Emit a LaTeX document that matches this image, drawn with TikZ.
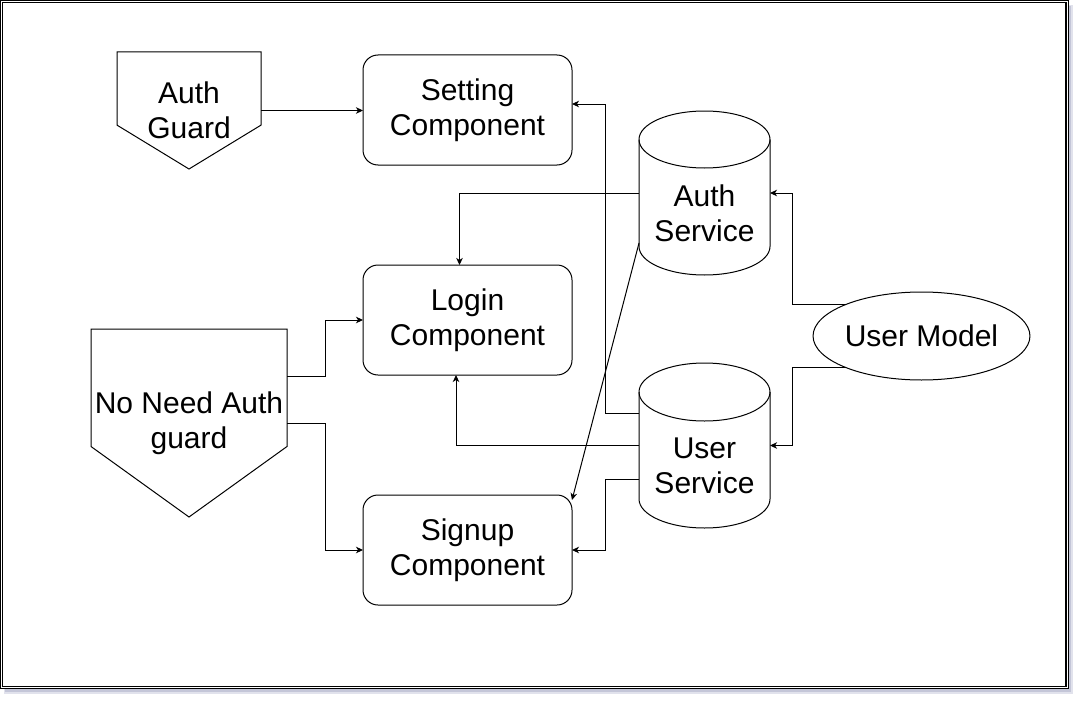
\documentclass[tikz,border=0pt]{standalone}
\usepackage{fontspec}
\setmainfont{Liberation Sans}
\usepackage{tikz}
\usetikzlibrary{arrows.meta,calc,positioning,shapes.geometric}
\definecolor{shadowcol}{RGB}{196,198,216}
\newcommand{\guardshape}[1]{\draw[line width=1pt] (#1.north west) -- (#1.north east) -- ($(#1.south east)!0.375!(#1.north east)$) -- (#1.south) -- ($(#1.south west)!0.375!(#1.north west)$) -- cycle;}
\newcommand{\storeshape}[2]{\draw[line width=1pt] ([yshift=-#2]#1.north west) -- ([yshift=#2]#1.south west) arc[start angle=180,end angle=360,x radius=65.5,y radius=#2] -- ([yshift=-#2]#1.north east);
  \draw[line width=1pt] ([yshift=-#2]#1.north) ellipse[x radius=65.5,y radius=#2];}

\begin{document}
\begin{tikzpicture}[x=1pt,y=1pt,>={Stealth[length=7pt,width=6.5pt,inset=2pt]},
  every node/.style={font=\fontsize{30}{35}\selectfont,align=center,inner sep=0pt,outer sep=0pt},
  comp/.style={draw,line width=1pt,rounded corners=15pt,minimum width=209,minimum height=110},
  link/.style={->,line width=1pt}]
% page frame with shadow
\useasboundingbox (0,0) rectangle (1079,-701);
\fill[shadowcol!50] (4,-5) rectangle (1073,-694);
\fill[shadowcol] (5,-6) rectangle (1071,-692);
\fill[white] (0,0) rectangle (1068.9,-689.3);
\draw[line width=1.2pt] (0.6,-0.6) rectangle (1068.3,-688.7);
\draw[line width=1.2pt] (2.6,-2.6) rectangle (1066,-686.7);
% components
\node[comp] (setting) at (467.5,-110) {Setting\\Component};
\node[comp] (login) at (467.5,-320) {Login\\Component};
\node[comp] (signup) at (467.5,-550) {Signup\\Component};
% guards
\node[minimum width=144,minimum height=117] (authg) at (189,-110.5) {Auth\\Guard};
\node[minimum width=196,minimum height=188] (noneed) at (189,-423) {No Need Auth\\guard};
\guardshape{authg}
\guardshape{noneed}
% services and model
\node[minimum width=131,minimum height=164] (authsvc) at (704.5,-193) {};
\node[minimum width=131,minimum height=165] (usersvc) at (704.5,-445.5) {};
\storeshape{authsvc}{28.5}
\storeshape{usersvc}{29}
\node (authlbl) at ([yshift=-20.5]authsvc.center) {Auth\\Service};
\node (userlbl) at ([yshift=-20]usersvc.center) {User\\Service};
\node[draw,ellipse,line width=1pt,minimum width=215,minimum height=88] (usermodel) at (921.5,-336) {User Model};
% connectors
\draw[link] (authg.east) -- (authg.east -| setting.west);
\draw[link] (authsvc.west) -| ([xshift=-8]login.north);
\draw[link] ([yshift=-50]authsvc.west) -- ([yshift=-5]signup.north east);
\draw[link] ([yshift=32.5]usersvc.west) -- ++(-34,0) |- ([yshift=6]setting.east);
\draw[link] (usersvc.west) -| ([xshift=-11.5]login.south);
\draw[link] ([yshift=-33.5]usersvc.west) -- ++(-34,0) |- (signup.east);
\draw[link] (usermodel.158) -- ++(-52,0) |- (authsvc.east);
\draw[link] (usermodel.202) -- ++(-52,0) |- (usersvc.east);
\draw[link] ([yshift=47]noneed.east) -- ++(38,0) |- (login.west);
\draw[link] (noneed.east) -- ++(38,0) |- (signup.west);
\end{tikzpicture}
\end{document}
